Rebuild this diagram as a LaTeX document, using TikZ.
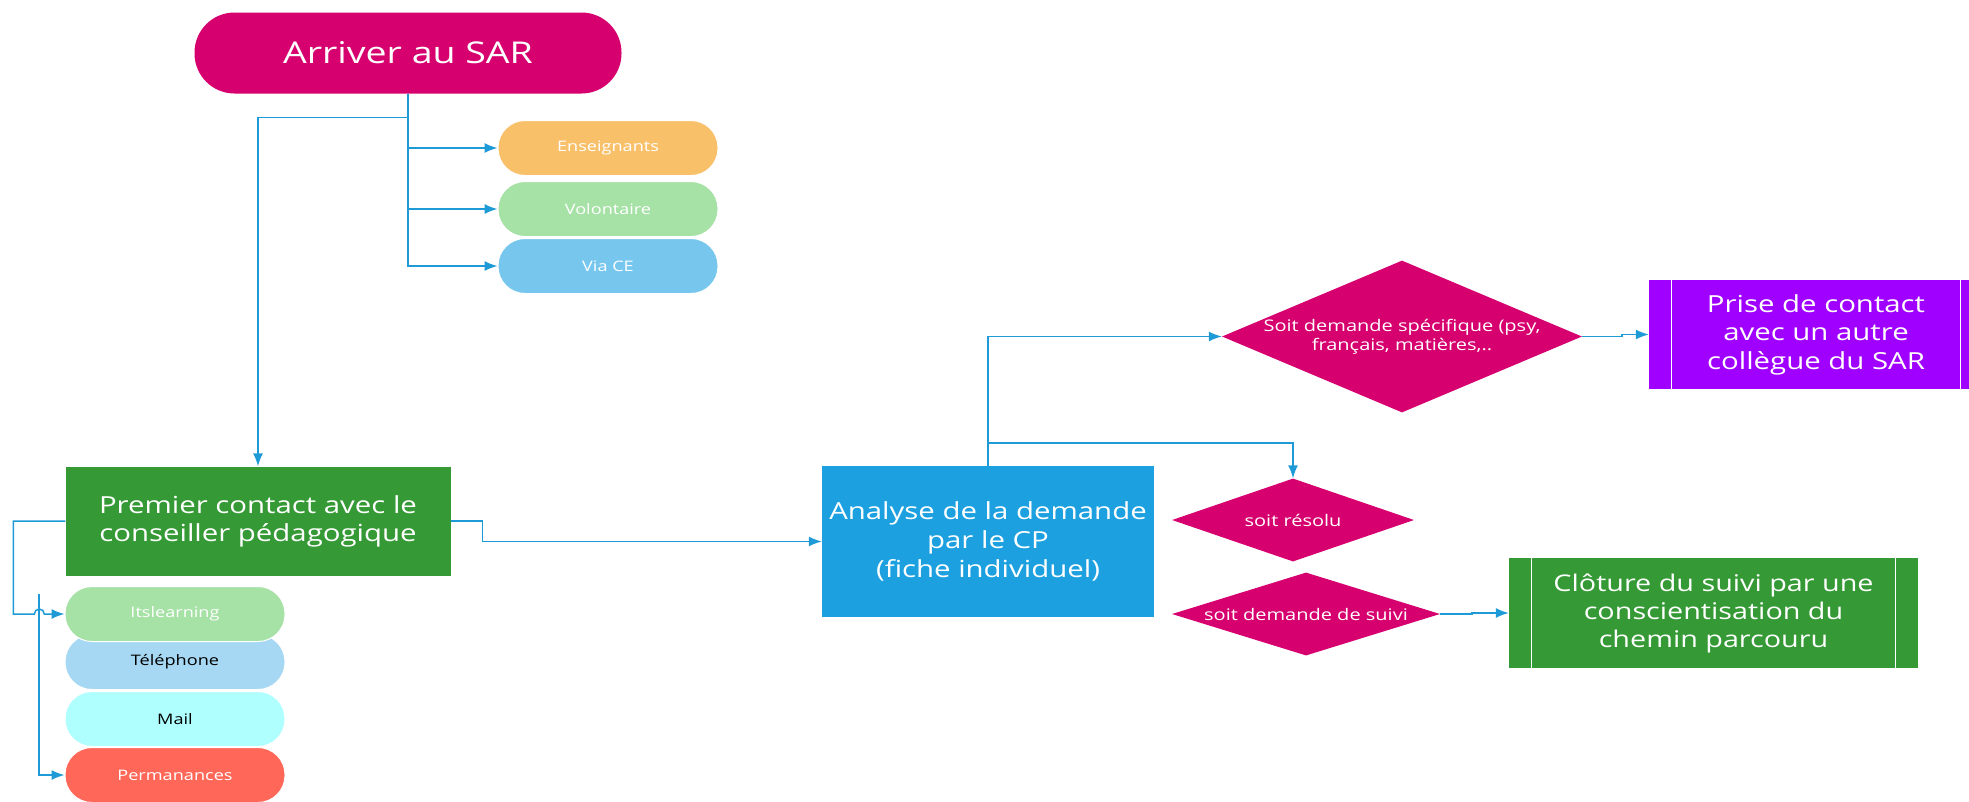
\documentclass[tikz,border=0pt]{standalone}
\usepackage{fontspec}
\setmainfont{Open Sans}[FakeStretch=1.25]
\usetikzlibrary{arrows.meta,positioning,shapes.geometric}
\definecolor{sarpink}{RGB}{214,0,111}
\definecolor{linkblue}{RGB}{30,155,215}
\definecolor{sargreen}{RGB}{53,154,53}
\definecolor{analyseblue}{RGB}{29,160,224}
\definecolor{prisepurple}{RGB}{160,0,255}
\definecolor{pillorange}{RGB}{249,192,106}
\definecolor{pillgreen}{RGB}{166,225,166}
\definecolor{pillblue}{RGB}{119,198,238}
\definecolor{pillsky}{RGB}{166,216,243}
\definecolor{pillaqua}{RGB}{176,255,255}
\definecolor{pillred}{RGB}{255,104,88}
\tikzset{
    basic/.style  = {rectangle, align=center, inner sep=0pt, text=white},
    pill/.style   = {basic, draw=white, line width=1pt, rounded corners=27pt,
                     minimum width=220pt, minimum height=55pt, font=\fontsize{14.5}{18}\selectfont},
    bigbox/.style = {basic, font=\fontsize{23.5}{29}\selectfont},
    choice/.style = {diamond, inner sep=0pt, fill=sarpink, text=white, align=center,
                     font=\fontsize{16}{19}\selectfont},
    conn/.style   = {draw=linkblue, line width=1.5pt}
}
\begin{document}
\begin{tikzpicture}[x=1pt,y=-1pt,>={Latex[length=13pt,width=10pt]}]
	\clip (0,0) rectangle (1969,801);
	% entree
	\node[basic, fill=sarpink, rounded corners=40pt, minimum width=427pt, minimum height=81pt,
		font=\fontsize{30}{35}\selectfont] (arriver) at (408,53) {Arriver au SAR};
	\node[pill, fill=pillorange] (enseignants) at (608,148) {Enseignants};
	\node[pill, fill=pillgreen] (volontaire) at (608,209) {Volontaire};
	\node[pill, fill=pillblue] (viace) at (608,266) {Via CE};
	% premier contact
	\node[bigbox, fill=sargreen, minimum width=385pt, minimum height=109pt,
		font=\fontsize{23.5}{28}\selectfont] (premier) at (258,521)
		{Premier contact avec le\\conseiller pédagogique};
	\node[pill, fill=pillred] (permanences) at (175,775) {Permanances};
	\node[pill, fill=pillaqua, text=black] (mail) at (175,719) {Mail};
	\node[pill, fill=pillsky, text=black] (telephone) at (175,662) {Téléphone};
	\node[pill, fill=pillgreen] (itsl) at (175,614) {Itslearning};
	% analyse
	\node[bigbox, fill=analyseblue, minimum width=332pt, minimum height=151pt] (analyse) at (988,541.5)
		{Analyse de la demande\\par le CP\\(fiche individuel)};
	\node[choice, aspect=2.37, minimum width=358pt, minimum height=151pt] (specifique) at (1402,336.5)
		{Soit demande spécifique (psy,\\français, matières,..};
	\node[choice, aspect=2.92, minimum width=242pt, minimum height=83pt] (resolu) at (1293,520) {soit résolu};
	\node[choice, aspect=3.23, minimum width=268pt, minimum height=83pt] (suivi) at (1306,614) {soit demande de suivi};
	\node[bigbox, fill=prisepurple, minimum width=334pt, minimum height=109pt,
		font=\fontsize{23.5}{28.5}\selectfont] (prise) at (1816,334.5)
		{Prise de contact\\avec un autre\\collègue du SAR};
	\node[bigbox, fill=sargreen, minimum width=409pt, minimum height=110pt,
		font=\fontsize{23}{28}\selectfont] (cloture) at (1713.5,613)
		{Clôture du suivi par une\\conscientisation du\\chemin parcouru};
	\foreach \boxname in {prise,cloture}{
		\draw[white, line width=0.8pt] ([xshift=23pt]\boxname.north west) -- ([xshift=23pt]\boxname.south west);
		\draw[white, line width=0.8pt] ([xshift=-23pt]\boxname.north east) -- ([xshift=-23pt]\boxname.south east);
	}
	% liens
	\draw[conn,->] (arriver.south) -- ++(0,24) -| (premier.north);
	\draw[conn,->] (arriver.south) |- (enseignants.west);
	\draw[conn,->] (arriver.south) |- (volontaire.west);
	\draw[conn,->] (arriver.south) |- (viace.west);
	\draw[conn,->] (premier.west) -- ++(-52,0) -- ++(0,93) -- ++(21,0)
		arc[start angle=180, end angle=0, radius=5pt] -- (itsl.west);
	\coordinate (permtop) at (39,594);
	\draw[conn,->] (permtop) |- (permanences.west);
	\draw[conn,->] (premier.east) -- ++(32,0) |- (analyse.west);
	\draw[conn,->] (analyse.north) |- (specifique.west);
	\draw[conn,->] (analyse.north) -- ++(0,-23) -| (resolu.north);
	\draw[conn,->] (specifique.east) -- ++(40,0) |- (prise.west);
	\draw[conn,->] (suivi.east) -- ++(32,0) |- (cloture.west);
\end{tikzpicture}
\end{document}
